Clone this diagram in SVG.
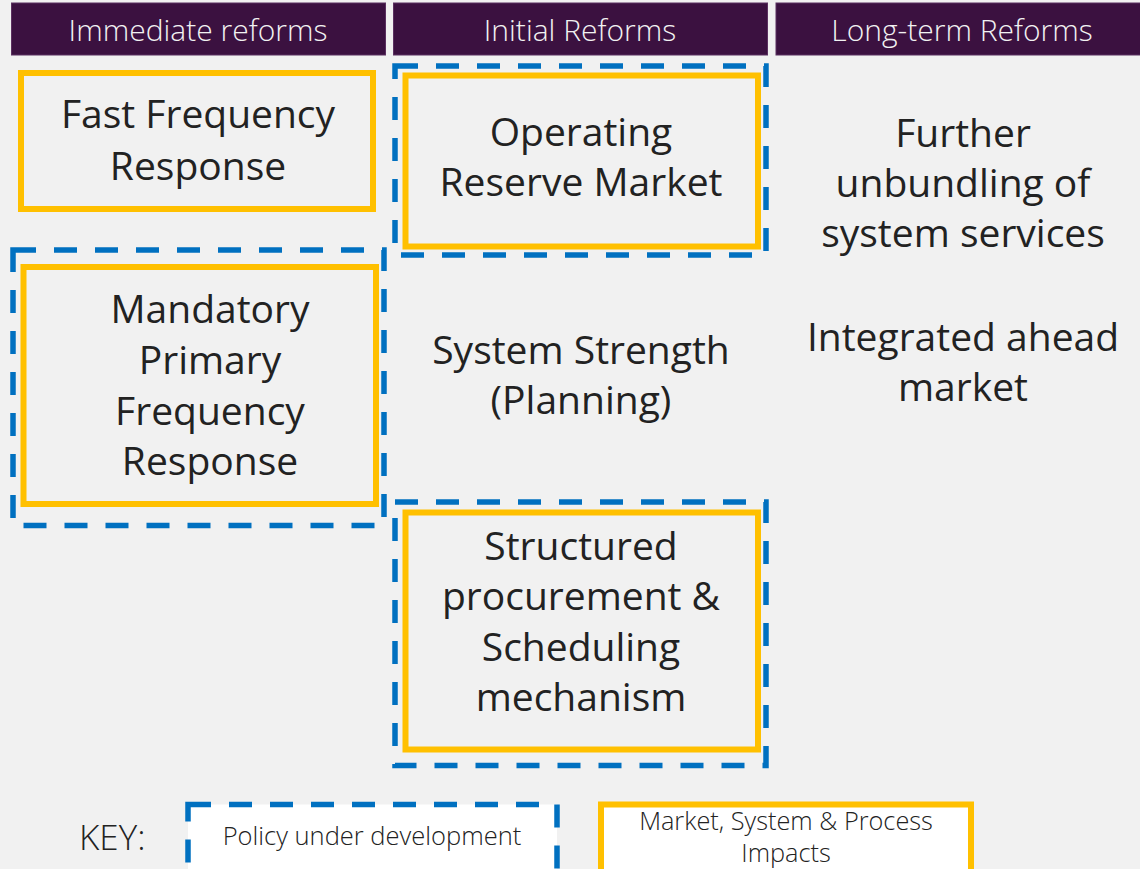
<svg xmlns="http://www.w3.org/2000/svg" width="1140" height="869" viewBox="0 0 1140 869">
<style>
.hdr{fill:#3b1140;stroke:#5b3060;stroke-width:1}
.htxt{font-family:"Open Sans","Noto Sans",sans-serif;font-weight:300;font-size:30px;fill:#f2f2f2;text-anchor:middle}
.yel{fill:none;stroke:#ffc000;stroke-width:6}
.blu{fill:none;stroke:#0070c0;stroke-width:5.5;stroke-dasharray:23 18}
.body{font-family:"Open Sans","Noto Sans",sans-serif;font-size:39px;fill:#222222;text-anchor:middle}
.key{font-family:"Open Sans","Noto Sans",sans-serif;font-weight:300;fill:#222222}
</style>
<rect width="1140" height="869" fill="#f1f1f1"/>
<g id="header-immediate"><rect class="hdr" x="11.5" y="3" width="374" height="52"/><text class="htxt" x="198" y="41">Immediate reforms</text></g>
<g id="header-initial"><rect class="hdr" x="393.5" y="3" width="374" height="52"/><text class="htxt" x="580" y="41">Initial Reforms</text></g>
<g id="header-longterm"><rect class="hdr" x="776" y="3" width="370" height="52"/><text class="htxt" x="962" y="41">Long-term Reforms</text></g>
<g id="node-ffr"><rect class="yel" x="21" y="73" width="352" height="136"/><text class="body" x="198" y="128">Fast Frequency</text><text class="body" x="198" y="180">Response</text></g>
<g id="node-orm"><rect class="blu" x="395" y="66" width="371" height="189"/><rect class="yel" x="405.5" y="75.5" width="352.5" height="171"/><text class="body" x="581" y="146">Operating</text><text class="body" x="581" y="196">Reserve Market</text></g>
<g id="node-further"><text class="body" x="963" y="147">Further</text><text class="body" x="963" y="197">unbundling of</text><text class="body" x="963" y="247">system services</text></g>
<g id="node-mpfr"><rect class="blu" x="13" y="250" width="371" height="275.5"/><rect class="yel" x="23.5" y="267" width="352.5" height="237"/><text class="body" x="210" y="323">Mandatory</text><text class="body" x="210" y="374">Primary</text><text class="body" x="210" y="425">Frequency</text><text class="body" x="210" y="475">Response</text></g>
<g id="node-strength"><text class="body" x="581" y="364">System Strength</text><text class="body" x="581" y="414">(Planning)</text></g>
<g id="node-integrated"><text class="body" x="963" y="351">Integrated ahead</text><text class="body" x="963" y="401">market</text></g>
<g id="node-structured"><rect class="blu" x="395" y="502" width="371" height="263.5"/><rect class="yel" x="405.5" y="512.5" width="352.5" height="237"/><text class="body" x="581" y="560">Structured</text><text class="body" x="581" y="610">procurement &amp;</text><text class="body" x="581" y="661">Scheduling</text><text class="body" x="581" y="711">mechanism</text></g>
<g id="connectors"></g>
<g id="key">
<text class="key" x="79" y="850" font-size="35">KEY:</text>
<rect x="188" y="804.5" width="369" height="70" fill="#ffffff" stroke="#0070c0" stroke-width="5.5" stroke-dasharray="23 18"/>
<text class="key" x="372" y="845" font-size="25.5" text-anchor="middle">Policy under development</text>
<rect x="601" y="804.5" width="370" height="70" fill="#ffffff" stroke="#ffc000" stroke-width="6"/>
<text class="key" x="786" y="830" font-size="25.3" text-anchor="middle">Market, System &amp; Process</text>
<text class="key" x="786" y="862" font-size="25.3" text-anchor="middle">Impacts</text>
</g>
</svg>
